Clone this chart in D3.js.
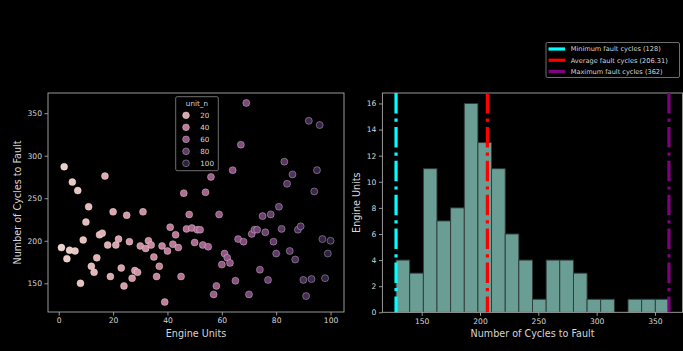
<!DOCTYPE html>
<html>
<head>
<meta charset="utf-8">
<script src="https://cdn.jsdelivr.net/npm/d3@7"></script>
<style>
  html, body { margin: 0; padding: 0; background: #000; }
  svg { display: block; }
  text { font-family: "DejaVu Sans", sans-serif; }
</style>
</head>
<body>
<svg id="chart" width="683" height="351"></svg>
<script>
// Engine unit ids and the number of cycles each ran before fault
const unitIds = d3.range(1, 101);
const cyclesToFault = [
  192, 287, 179, 189, 269, 188, 259, 150, 201, 222,
  240, 170, 163, 180, 207, 209, 276, 195, 158, 234,
  195, 202, 168, 147, 230, 199, 156, 165, 163, 194,
  234, 191, 200, 195, 181, 158, 170, 194, 128, 188,
  216, 196, 207, 192, 158, 256, 214, 231, 215, 198,
  213, 213, 195, 257, 193, 275, 137, 147, 231, 172,
  185, 180, 174, 283, 153, 202, 313, 199, 362, 137,
  208, 213, 213, 166, 229, 210, 154, 231, 199, 185,
  240, 214, 293, 267, 188, 278, 178, 213, 217, 154,
  135, 341, 155, 258, 283, 336, 202, 156, 185, 200
];
const hueLegendValues = [20, 40, 60, 80, 100];
const scatterXTicks = [0, 20, 40, 60, 80, 100];
const scatterYTicks = [150, 200, 250, 300, 350];
const histXTicks = [150, 200, 250, 300, 350];
const histYTicks = [0, 2, 4, 6, 8, 10, 12, 14, 16];
const histBinCount = 20;

const svg = d3.select("#chart");
svg.append("rect").attr("width", 683).attr("height", 351).attr("fill", "#000");

const TEXT = "#d6d6d6";
const FRAME = "#a8a8a8";

// cubehelix colormap (light -> dark), as used for numeric hue
function cubehelix(t) {
  const light = 0.85, dark = 0.15, start = 0, rot = 0.4, hue = 0.8;
  const x = light + (dark - light) * t;
  const a = hue * x * (1 - x) / 2;
  const phi = 2 * Math.PI * (start / 3 + rot * x);
  const f = (p0, p1) => Math.max(0, Math.min(1, x + a * (p0 * Math.cos(phi) + p1 * Math.sin(phi))));
  return d3.rgb(255 * f(-0.14861, 1.78277), 255 * f(-0.29227, -0.90649), 255 * f(1.97294, 0)).toString();
}
const hue = d3.scaleSequential(cubehelix).domain(d3.extent(unitIds));

function padded(ext) {
  const m = (ext[1] - ext[0]) * 0.05;
  return [ext[0] - m, ext[1] + m];
}

function drawAxes(g, box, x, y, xTicks, yTicks, xLabel, yLabel, yLabelX) {
  g.append("rect")
    .attr("x", box.left).attr("y", box.top)
    .attr("width", box.right - box.left).attr("height", box.bottom - box.top)
    .attr("fill", "none").attr("stroke", FRAME).attr("stroke-width", 0.9);
  const xa = g.append("g").attr("transform", `translate(0,${box.bottom})`)
    .call(d3.axisBottom(x).tickValues(xTicks).tickSize(3.5).tickPadding(2.5).tickFormat(d3.format("d")));
  const ya = g.append("g").attr("transform", `translate(${box.left},0)`)
    .call(d3.axisLeft(y).tickValues(yTicks).tickSize(3.5).tickPadding(2.5).tickFormat(d3.format("d")));
  [xa, ya].forEach(a => {
    a.select(".domain").remove();
    a.selectAll(".tick line").attr("stroke", FRAME).attr("stroke-width", 0.9);
    a.selectAll(".tick text").attr("fill", TEXT).style("font-size", "7.6px")
      .style("font-family", "DejaVu Sans");
  });
  g.append("text")
    .attr("x", (box.left + box.right) / 2).attr("y", 336.5)
    .attr("text-anchor", "middle").attr("fill", TEXT).style("font-size", "9.6px")
    .text(xLabel);
  g.append("text")
    .attr("transform", `translate(${yLabelX},${(box.top + box.bottom) / 2}) rotate(-90)`)
    .attr("text-anchor", "middle").attr("fill", TEXT).style("font-size", "9.6px")
    .text(yLabel);
}

// ---- left: scatter of cycles to fault per unit ----
const sBox = { left: 48, right: 344, top: 93, bottom: 312 };
const sx = d3.scaleLinear().domain(padded(d3.extent(unitIds))).range([sBox.left, sBox.right]);
const sy = d3.scaleLinear().domain(padded(d3.extent(cyclesToFault))).range([sBox.bottom, sBox.top]);
const left = svg.append("g");
drawAxes(left, sBox, sx, sy, scatterXTicks, scatterYTicks,
  "Engine Units", "Number of Cycles to Fault", 20.5);

left.append("g").selectAll("circle")
  .data(unitIds.map((u, i) => ({ u, c: cyclesToFault[i] })))
  .join("circle")
  .attr("cx", d => sx(d.u)).attr("cy", d => sy(d.c)).attr("r", 3.5)
  .attr("fill", d => hue(d.u))
  .attr("stroke", "#fff").attr("stroke-opacity", 0.55).attr("stroke-width", 0.6);

// hue legend
const hl = left.append("g");
hl.append("rect").attr("x", 175.7).attr("y", 96.7).attr("width", 42.6).attr("height", 74)
  .attr("rx", 1.5).attr("fill", "#000").attr("stroke", "#8a8a8a").attr("stroke-width", 0.8);
hl.append("text").attr("x", 196.9).attr("y", 106).attr("text-anchor", "middle")
  .attr("fill", TEXT).style("font-size", "7.2px").text("unit_n");
hueLegendValues.forEach((v, i) => {
  const yy = 115.3 + i * 12;
  hl.append("circle").attr("cx", 186).attr("cy", yy).attr("r", 3.4)
    .attr("fill", hue(v)).attr("stroke", "#fff").attr("stroke-opacity", 0.55).attr("stroke-width", 0.6);
  hl.append("text").attr("x", 200.3).attr("y", yy + 2.6)
    .attr("fill", TEXT).style("font-size", "7.2px").text(v);
});

// ---- right: histogram of cycles to fault ----
const minC = d3.min(cyclesToFault), maxC = d3.max(cyclesToFault), meanC = d3.mean(cyclesToFault);
const binW = (maxC - minC) / histBinCount;
const bins = d3.bin()
  .domain([minC, maxC])
  .thresholds(d3.range(1, histBinCount).map(i => minC + i * binW))(cyclesToFault);

const hBox = { left: 382.4, right: 682.6, top: 93, bottom: 312.3 };
const hx = d3.scaleLinear().domain(padded([minC, maxC])).range([hBox.left, hBox.right]);
const hy = d3.scaleLinear().domain([0, d3.max(bins, b => b.length) * 1.05]).range([hBox.bottom, hBox.top]);
const right = svg.append("g");

right.append("g").selectAll("rect")
  .data(bins.filter(b => b.length > 0))
  .join("rect")
  .attr("x", b => hx(b.x0)).attr("width", b => hx(b.x1) - hx(b.x0))
  .attr("y", b => hy(b.length)).attr("height", b => hy(0) - hy(b.length))
  .attr("fill", "#6a9e95").attr("stroke", "#2f3a38").attr("stroke-width", 0.9);

drawAxes(right, hBox, hx, hy, histXTicks, histYTicks,
  "Number of Cycles to Fault", "Engine Units", 359.5);

const refLines = [
  { label: `Minimum fault cycles (${minC})`, value: minC, color: "#00ffff" },
  { label: `Average fault cycles (${+meanC.toFixed(2)})`, value: meanC, color: "#ff0000" },
  { label: `Maximum fault cycles (${maxC})`, value: maxC, color: "#800080" }
];
right.append("g").selectAll("line")
  .data(refLines)
  .join("line")
  .attr("x1", d => hx(d.value)).attr("x2", d => hx(d.value))
  .attr("y1", hBox.top).attr("y2", hBox.bottom)
  .attr("stroke", d => d.color).attr("stroke-width", 3.2)
  .attr("stroke-dasharray", "20.5,5.1,3.2,5.1");

// reference-line legend
const rl = svg.append("g");
rl.append("rect").attr("x", 546).attr("y", 42.5).attr("width", 133.5).attr("height", 35)
  .attr("rx", 1.5).attr("fill", "#000").attr("stroke", "#8a8a8a").attr("stroke-width", 0.8);
refLines.forEach((d, i) => {
  const yy = 49 + i * 11.2;
  rl.append("line").attr("x1", 548.5).attr("x2", 565).attr("y1", yy).attr("y2", yy)
    .attr("stroke", d.color).attr("stroke-width", 3.2);
  rl.append("text").attr("x", 570.7).attr("y", yy + 2.3)
    .attr("fill", TEXT).style("font-size", "6.6px").text(d.label);
});
</script>
</body>
</html>
